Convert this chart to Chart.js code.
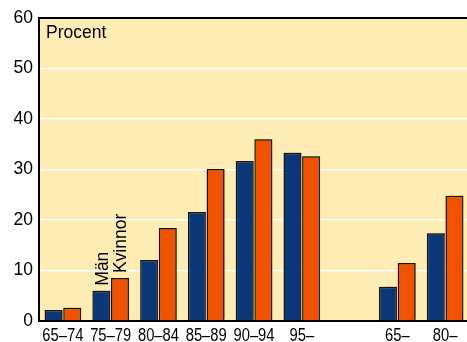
<!DOCTYPE html>
<html>
<head>
<meta charset="utf-8">
<script src="https://cdn.jsdelivr.net/npm/chart.js@4"></script>
<style>
  html, body { margin: 0; padding: 0; background: #fff; overflow: hidden; }
  #wrap { width: 472px; height: 342px; }
</style>
</head>
<body>
<div id="wrap"><canvas id="chart" width="472" height="342"></canvas></div>
<script>
var categories = ["65–74", "75–79", "80–84", "85–89", "90–94", "95–", "", "65–", "80–"];
var man = [2.2, 6.0, 12.1, 21.6, 31.7, 33.3, null, 6.8, 17.4];
var kvinnor = [2.6, 8.5, 18.4, 30.1, 36.0, 32.6, null, 11.5, 24.8];
var yTicks = [0, 10, 20, 30, 40, 50, 60];
var seriesNames = ["Män", "Kvinnor"];
var unitLabel = "Procent";

var bodyFont = "'Liberation Sans', Arial, sans-serif";

// plot background, frame, "Procent", narrow x labels and the rotated series names
var decor = {
  id: "decor",
  beforeDraw: function (chart) {
    var a = chart.chartArea, ctx = chart.ctx;
    ctx.save();
    ctx.fillStyle = "#feecb5";
    ctx.fillRect(a.left, a.top, a.right - a.left, a.bottom - a.top);
    ctx.restore();
  },
  beforeDatasetsDraw: function (chart) {
    var ctx = chart.ctx;
    ctx.save();
    ctx.shadowColor = "rgba(60,50,20,0.45)";
    ctx.shadowOffsetX = 1.5;
    ctx.shadowOffsetY = -1;
    ctx.shadowBlur = 1;
  },
  afterDatasetsDraw: function (chart) {
    chart.ctx.restore();
  },
  afterDraw: function (chart) {
    var a = chart.chartArea, ctx = chart.ctx;
    ctx.save();
    ctx.strokeStyle = "#000";
    ctx.lineWidth = 2;
    ctx.beginPath();
    ctx.moveTo(a.right + 5, a.top);
    ctx.lineTo(a.left, a.top);
    ctx.lineTo(a.left, a.bottom);
    ctx.lineTo(a.right + 5, a.bottom);
    ctx.stroke();

    ctx.fillStyle = "#000";
    ctx.font = "17.5px " + bodyFont;
    ctx.textAlign = "left";
    ctx.textBaseline = "alphabetic";
    ctx.fillText(unitLabel, a.left + 7, a.top + 20);

    // x labels, squeezed like the original's narrow face
    var xs = chart.scales.x;
    ctx.font = "18px " + bodyFont;
    ctx.textAlign = "center";
    for (var k = 0; k < categories.length; k++) {
      ctx.save();
      ctx.translate(xs.getPixelForValue(k), a.bottom + 19.5);
      ctx.scale(0.82, 1);
      ctx.fillText(categories[k], 0, 0);
      ctx.restore();
    }

    // names above the 75–79 bars
    ctx.font = "17.5px " + bodyFont;
    ctx.textAlign = "left";
    for (var i = 0; i < 2; i++) {
      var bar = chart.getDatasetMeta(i).data[1];
      ctx.save();
      ctx.translate(bar.x + 6.5, bar.y - 5);
      ctx.rotate(-Math.PI / 2);
      ctx.fillText(seriesNames[i], 0, 0);
      ctx.restore();
    }
    ctx.restore();
  }
};

var ctx = document.getElementById("chart");
var myChart = new Chart(ctx, {
  type: "bar",
  data: {
    labels: categories,
    datasets: [
      {
        label: seriesNames[0],
        backgroundColor: "#0b3678",
        borderColor: "#111",
        borderWidth: 1.5,
        data: man,
      },
      {
        label: seriesNames[1],
        backgroundColor: "#f05200",
        borderColor: "#111",
        borderWidth: 1.5,
        data: kvinnor,
      },
    ],
  },
  options: {
    responsive: false,
    animation: false,
    layout: { padding: { top: 18, right: 3, left: 0, bottom: 0 } },
    datasets: { bar: { categoryPercentage: 0.78, barPercentage: 0.965 } },
    plugins: {
      legend: { display: false },
      title: { display: false },
      tooltip: { enabled: false },
    },
    scales: {
      x: {
        grid: { display: false, drawTicks: false },
        border: { display: false },
        ticks: { display: false },
        afterFit: function (s) { s.height = 21; },
      },
      y: {
        min: 0,
        max: 60,
        afterBuildTicks: function (s) {
          s.ticks = yTicks.map(function (v) { return { value: v }; });
        },
        grid: { color: "#ffffff", lineWidth: 1.5, drawTicks: false },
        border: { display: false },
        ticks: {
          color: "#000",
          padding: 6,
          font: { family: bodyFont, size: 17.5 },
        },
        afterFit: function (s) { s.width = 39; },
      },
    },
  },
  plugins: [decor],
});
</script>
</body>
</html>
